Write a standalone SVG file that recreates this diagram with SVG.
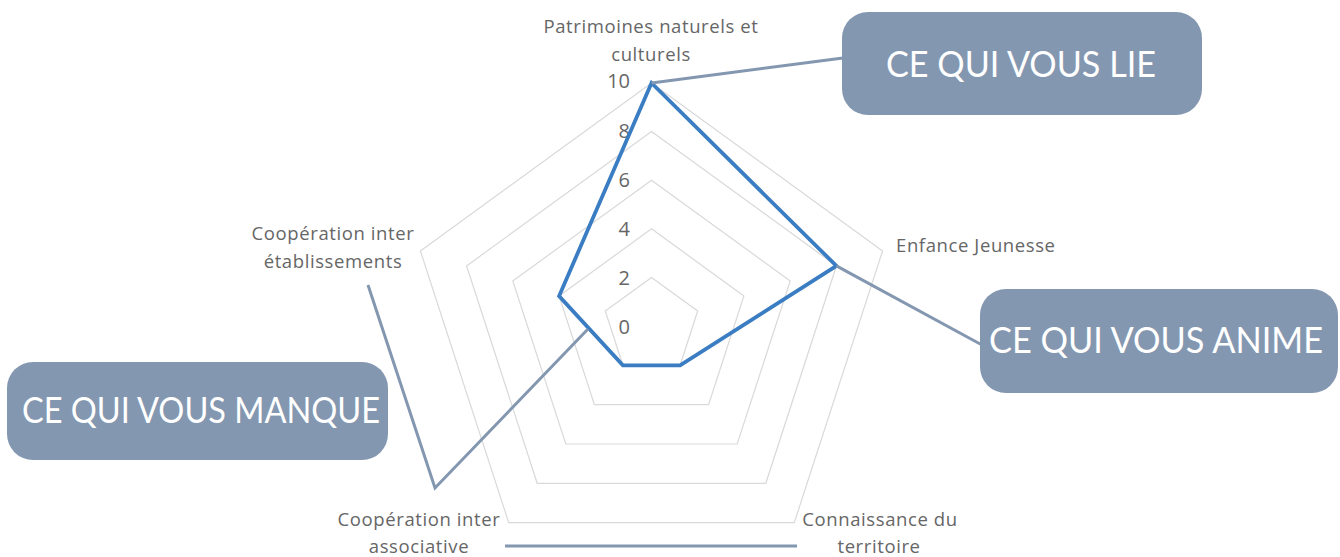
<svg xmlns="http://www.w3.org/2000/svg" width="1340" height="557" viewBox="0 0 1340 557">
<style>
.grid{fill:none;stroke:#D9D9D9;stroke-width:1.2}
.data{fill:none;stroke:#3A7DC2;stroke-width:3.8;stroke-linejoin:miter}
.conn{fill:none;stroke:#8497B0;stroke-width:3}
.box{fill:#8497B0}
.btxt{font-family:Lato,"Open Sans",sans-serif;font-size:36px;fill:#FFFFFF;text-anchor:middle}
.lbl{font-family:"Open Sans","Liberation Sans",sans-serif;font-size:18.5px;letter-spacing:0.6px;fill:#666666}
.num{font-family:"Open Sans","Liberation Sans",sans-serif;font-size:20px;fill:#666666;text-anchor:end}
</style>
<rect width="1340" height="557" fill="#FFFFFF"/>
<g id="grid">
<polygon class="grid" points="651.5,277.4 697.7,311.0 680.1,365.3 622.9,365.3 605.3,311.0"/>
<polygon class="grid" points="651.5,228.8 743.9,296.0 708.6,404.6 594.4,404.6 559.1,296.0"/>
<polygon class="grid" points="651.5,180.2 790.2,281.0 737.2,444.0 565.8,444.0 512.8,281.0"/>
<polygon class="grid" points="651.5,131.6 836.4,265.9 765.8,483.3 537.2,483.3 466.6,265.9"/>
<polygon class="grid" points="651.5,83 882.6,250.9 794.3,522.6 508.7,522.6 420.4,250.9"/>
</g>
<g id="axis-numbers">
<text class="num" x="630" y="88">10</text>
<text class="num" x="630" y="138">8</text>
<text class="num" x="630" y="187">6</text>
<text class="num" x="630" y="236">4</text>
<text class="num" x="630" y="285">2</text>
<text class="num" x="630" y="334">0</text>
</g>
<g id="axis-labels">
<text class="lbl" x="651" y="33" text-anchor="middle">Patrimoines naturels et</text>
<text class="lbl" x="651" y="61" text-anchor="middle">culturels</text>
<text class="lbl" x="896" y="252">Enfance Jeunesse</text>
<text class="lbl" x="880" y="526" text-anchor="middle">Connaissance du</text>
<text class="lbl" x="879" y="553" text-anchor="middle">territoire</text>
<text class="lbl" x="419" y="526" text-anchor="middle">Coopération inter</text>
<text class="lbl" x="419" y="553" text-anchor="middle">associative</text>
<text class="lbl" x="333" y="240" text-anchor="middle">Coopération inter</text>
<text class="lbl" x="333" y="268" text-anchor="middle">établissements</text>
</g>
<g id="series">
<polygon class="data" points="651.5,83 836.4,265.9 680.1,365.3 622.9,365.3 559.1,296.0"/>
</g>
<g id="connectors">
<line class="conn" x1="651.5" y1="83" x2="843" y2="58"/>
<line class="conn" x1="836.4" y1="265.9" x2="982" y2="345"/>
<polyline class="conn" points="368,285 435,488 588,329"/>
<line class="conn" x1="505" y1="546" x2="797" y2="546"/>
</g>
<g id="box-lie">
<rect class="box" x="842" y="12" width="360" height="103" rx="26"/>
<text class="btxt" x="1021" y="77" textLength="270" lengthAdjust="spacingAndGlyphs">CE QUI VOUS LIE</text>
</g>
<g id="box-anime">
<rect class="box" x="980" y="289" width="358" height="104" rx="26"/>
<text class="btxt" x="1156" y="353" textLength="334" lengthAdjust="spacingAndGlyphs">CE QUI VOUS ANIME</text>
</g>
<g id="box-manque">
<rect class="box" x="7" y="362" width="381" height="98" rx="26"/>
<text class="btxt" x="201" y="423" textLength="358" lengthAdjust="spacingAndGlyphs">CE QUI VOUS MANQUE</text>
</g>
</svg>
